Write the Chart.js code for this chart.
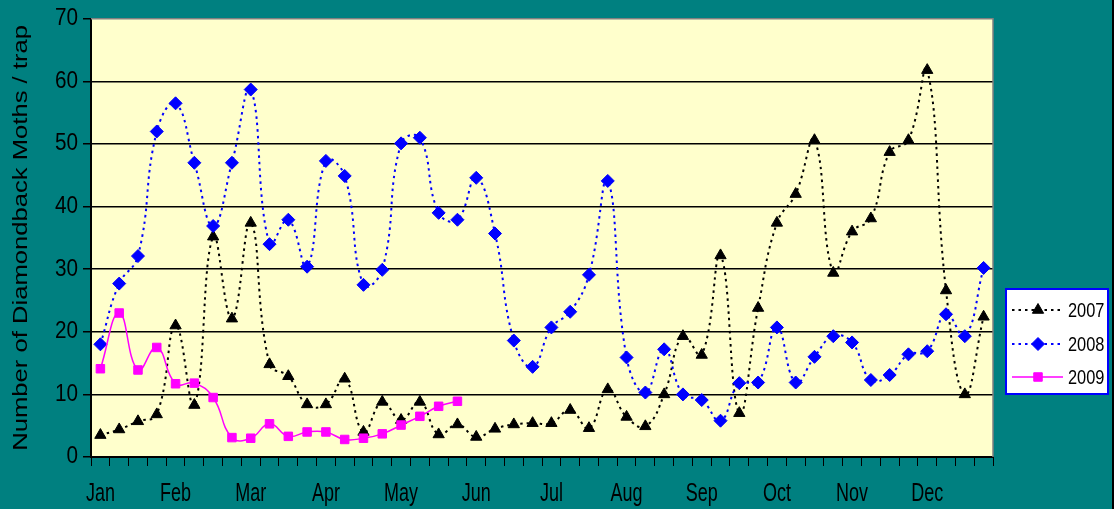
<!DOCTYPE html>
<html><head><meta charset="utf-8">
<script src="https://cdn.jsdelivr.net/npm/chart.js@4"></script>
<style>html,body{margin:0;padding:0;background:#008080;overflow:hidden}canvas{display:block}</style>
</head><body>
<canvas id="c" width="1114" height="509"></canvas>
<script>
const categories = ['Jan','','','','Feb','','','','Mar','','','','Apr','','','','May','','','','Jun','','','',
  'Jul','','','','Aug','','','','Sep','','','','Oct','','','','Nov','','','','Dec','','',''];
const seriesNames = ['2007','2008','2009'];
const values2007 = [3.5,4.4,5.7,6.8,21.0,8.3,35.2,22.1,37.4,14.8,12.9,8.4,8.4,12.5,4.0,8.8,5.9,8.8,3.6,5.2,3.2,4.5,5.2,5.4,
  5.4,7.5,4.6,10.8,6.4,4.9,10.0,19.3,16.3,32.2,7.0,23.8,37.4,42.0,50.6,29.4,36.0,38.1,48.7,50.6,61.8,26.6,10.0,22.4];
const values2008 = [18.0,27.7,32.1,52.0,56.5,47.0,36.9,47.0,58.7,34.0,37.9,30.4,47.3,44.9,27.5,29.9,50.1,51.0,39.0,37.9,44.6,35.7,18.6,14.4,
  20.7,23.2,29.1,44.1,15.9,10.3,17.2,10.0,9.1,5.8,11.8,11.9,20.7,11.9,16.0,19.3,18.3,12.3,13.1,16.4,16.9,22.8,19.3,30.2];
const values2009 = [14.1,23.0,13.9,17.5,11.7,11.8,9.5,3.1,3.0,5.3,3.3,4.0,4.0,2.8,3.0,3.7,5.1,6.5,8.1,8.9];
const yAxisMin = 0, yAxisMax = 70, yAxisStep = 10;
const yAxisTitle = 'Number of Diamondback Moths / trap';

const FONT = "'Liberation Sans', Arial, sans-serif";
const styles = [
  {color:'#000000', dash:[2.5,4], width:2, point:'triangle', radius:6.5},
  {color:'#0000FF', dash:[2.5,4], width:2, point:'rectRot', radius:6.5},
  {color:'#FF00FF', dash:[], width:1.5, point:'rect', radius:6}
];

function drawMarker(ctx, type, x, y, r, color){
  ctx.save();
  ctx.fillStyle = color; ctx.strokeStyle = color; ctx.lineWidth = 1; ctx.setLineDash([]);
  ctx.beginPath();
  if (type === 'triangle') {
    ctx.moveTo(x, y - r); ctx.lineTo(x + r*0.866, y + r/2); ctx.lineTo(x - r*0.866, y + r/2); ctx.closePath();
  } else if (type === 'rectRot') {
    ctx.moveTo(x, y - r); ctx.lineTo(x + r, y); ctx.lineTo(x, y + r); ctx.lineTo(x - r, y); ctx.closePath();
  } else {
    const s = r * Math.SQRT1_2; ctx.rect(x - s, y - s, 2*s, 2*s);
  }
  ctx.fill(); ctx.stroke();
  ctx.restore();
}

const chartPlugin = {
  id: 'custom',
  beforeDraw(chart){
    const {ctx, chartArea:a} = chart;
    ctx.save();
    ctx.fillStyle = '#008080'; ctx.fillRect(0,0,chart.width,chart.height);
    ctx.fillStyle = '#FFFFCC'; ctx.fillRect(a.left,a.top,a.right-a.left,a.bottom-a.top);
    ctx.restore();
    const xs = chart.scales.x, ys = chart.scales.y;
    if (!xs._stretched) {
      const orig = xs.drawLabels;
      xs.drawLabels = function(area){
        const c = this.ctx; const y0 = this.top + 9 + 17 + 10.8;
        c.save(); c.translate(0,y0); c.scale(1,1.4); c.translate(0,-y0);
        orig.call(this, area); c.restore();
      };
      xs._stretched = true;
    }
    if (!ys._stretched) {
      const origL = ys.drawLabels, origT = ys.drawTitle;
      ys.drawLabels = function(area){
        const c = this.ctx; const x0 = this.right - 8 - 5;
        c.save(); c.translate(x0,0); c.scale(0.9,1); c.translate(-x0,0);
        origL.call(this, area); c.restore();
      };
      ys.drawTitle = function(){
        const c = this.ctx; const y0 = (this.top + this.bottom)/2;
        c.save(); c.translate(0,y0); c.scale(1,1.22); c.translate(0,-y0);
        origT.call(this); c.restore();
      };
      ys._stretched = true;
    }
  },
  beforeDatasetsDraw(chart){
    const {ctx, chartArea:a} = chart;
    ctx.save(); ctx.strokeStyle = '#808080'; ctx.lineWidth = 1.5;
    ctx.beginPath(); ctx.moveTo(a.left, a.top); ctx.lineTo(a.right, a.top); ctx.lineTo(a.right, a.bottom); ctx.stroke();
    ctx.restore();
  },
  afterDraw(chart){
    const ctx = chart.ctx;
    ctx.save();
    ctx.fillStyle = '#FFFFFF'; ctx.fillRect(1006, 289, 102, 105);
    ctx.strokeStyle = '#0000FF'; ctx.lineWidth = 2; ctx.strokeRect(1006, 289, 102, 105);
    const rows = [310, 344, 377];
    chart.data.datasets.forEach((ds, i) => {
      const st = styles[i]; const y = rows[i];
      ctx.save();
      ctx.strokeStyle = st.color; ctx.lineWidth = st.width; ctx.setLineDash(st.dash);
      ctx.beginPath(); ctx.moveTo(1012, y); ctx.lineTo(1063, y); ctx.stroke();
      ctx.restore();
      drawMarker(ctx, st.point, 1038, y, st.radius, st.color);
      ctx.save();
      const x0 = 1068;
      ctx.translate(x0, y); ctx.scale(0.82, 1.05); ctx.translate(-x0, -y);
      ctx.fillStyle = '#000'; ctx.font = '20px ' + FONT; ctx.textBaseline = 'middle'; ctx.textAlign = 'left';
      ctx.fillText(ds.label, x0, y + 1);
      ctx.restore();
    });
    ctx.fillStyle = '#000'; ctx.fillRect(1112, 0, 2, chart.height);
    ctx.restore();
  }
};

const datasets = [values2007, values2008, values2009].map((vals, i) => ({
  label: seriesNames[i],
  data: vals,
  borderColor: styles[i].color,
  backgroundColor: styles[i].color,
  borderWidth: styles[i].width,
  borderDash: styles[i].dash,
  tension: 0.45,
  pointStyle: styles[i].point,
  pointRadius: styles[i].radius,
  pointBackgroundColor: styles[i].color,
  pointBorderColor: styles[i].color,
  pointBorderWidth: 1,
  fill: false,
  order: 3 - i
}));

new Chart(document.getElementById('c'), {
  type: 'line',
  data: { labels: categories, datasets },
  options: {
    responsive: false,
    devicePixelRatio: 1,
    animation: false,
    layout: { padding: { left: 0, right: 121, top: 18, bottom: 0 } },
    plugins: { legend: { display: false }, tooltip: { enabled: false } },
    scales: {
      x: {
        type: 'category',
        offset: true,
        afterFit(s){ s.height = 52; },
        grid: { offset: true, drawOnChartArea: false, drawTicks: true, tickLength: 9, color: '#000', lineWidth: 1 },
        border: { display: true, color: '#000', width: 2 },
        ticks: { autoSkip: false, maxRotation: 0, minRotation: 0, padding: 17, color: '#000',
                 font: { family: FONT, size: 18, lineHeight: 1.2 } }
      },
      y: {
        min: yAxisMin, max: yAxisMax,
        afterFit(s){ s.width = 91; },
        grid: {
          drawTicks: true, tickLength: 8, lineWidth: 1.5, tickColor: '#000', tickWidth: 1.5,
          color: (c) => (c.tick && (c.tick.value === yAxisMin || c.tick.value === yAxisMax)) ? 'rgba(0,0,0,0)' : '#000'
        },
        border: { display: true, color: '#000', width: 2 },
        ticks: { stepSize: yAxisStep, padding: 5, color: '#000', font: { family: FONT, size: 23, lineHeight: 1.2 } },
        title: { display: true, text: yAxisTitle, color: '#000', padding: { top: 9, bottom: 0 },
                 font: { family: FONT, size: 21, lineHeight: 1.2 } }
      }
    }
  },
  plugins: [chartPlugin]
});
</script>
</body></html>
